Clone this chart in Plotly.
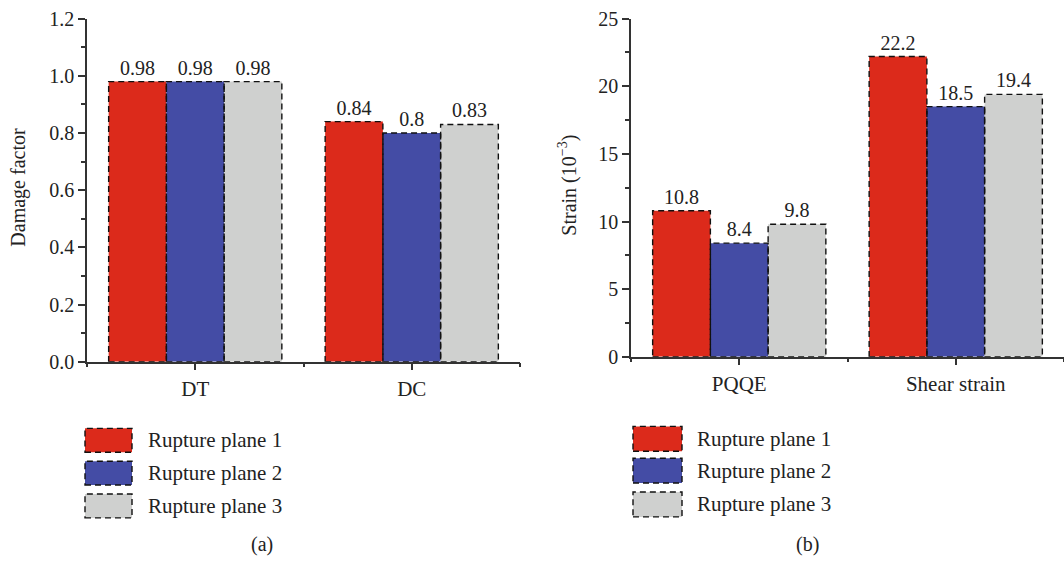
import plotly.graph_objects as go

# ---------------- data ----------------
series_names = ["Rupture plane 1", "Rupture plane 2", "Rupture plane 3"]
colors = ["#DC2A1B", "#444CA5", "#CFD0CF"]

cats_a = ["DT", "DC"]
vals_a = [[0.98, 0.84], [0.98, 0.80], [0.98, 0.83]]
labels_a = [["0.98", "0.84"], ["0.98", "0.8"], ["0.98", "0.83"]]

cats_b = ["PQQE", "Shear strain"]
vals_b = [[10.8, 22.2], [8.4, 18.5], [9.8, 19.4]]
labels_b = [["10.8", "22.2"], ["8.4", "18.5"], ["9.8", "19.4"]]

W, H = 1064, 562
FONT = "Liberation Serif"
AX = "#333333"
TXT = "#222222"


def px_x(p):
    return p / W


def py_raw(q):
    # plotly pixel (from top) -> paper fraction
    return 1 - q / H


def px_y(p):
    # target screenshot pixel -> paper fraction (vertical capture calibration)
    return py_raw((p - 9.4) / 0.966)


fig = go.Figure()
shapes = []
annotations = []

bargap = 0.2
nser = len(series_names)
bw = (1 - bargap) / nser

panels = [
    ("x", "y", cats_a, vals_a, labels_a),
    ("x2", "y2", cats_b, vals_b, labels_b),
]

for xa, ya, cats, vals, labs in panels:
    xpos = list(range(len(cats)))
    for k in range(nser):
        fig.add_trace(go.Bar(
            x=xpos, y=vals[k], name=series_names[k],
            marker=dict(color=colors[k], line=dict(width=0)),
            text=labs[k], textposition="outside",
            textfont=dict(family=FONT, size=20, color=TXT),
            cliponaxis=False, showlegend=False,
            xaxis=xa, yaxis=ya, hoverinfo="skip",
        ))
        # dashed outline of each bar, derived from data
        for i, v in enumerate(vals[k]):
            c = xpos[i] + (k - (nser - 1) / 2) * bw
            shapes.append(dict(
                type="rect", xref=xa, yref=ya,
                x0=c - bw / 2, x1=c + bw / 2, y0=0, y1=v,
                line=dict(color="#111", width=1.4, dash="6px,4px"),
                layer="above",
            ))

# manual legends
legend_specs = [
    (85, 132, [429, 462, 495], 24, 146),
    (633, 682, [427, 459, 493], 25, 695),
]
for x0, x1, tops, hgt, tx in legend_specs:
    for k in range(nser):
        shapes.append(dict(
            type="rect", xref="paper", yref="paper",
            x0=px_x(x0), x1=px_x(x1), y0=px_y(tops[k] + hgt), y1=px_y(tops[k]),
            fillcolor=colors[k],
            line=dict(color="#111", width=1.4, dash="6px,4px"),
        ))
        annotations.append(dict(
            xref="paper", yref="paper", x=px_x(tx), y=px_y(tops[k] + hgt / 2),
            text=series_names[k], showarrow=False, xanchor="left", yanchor="middle",
            font=dict(family=FONT, size=21, color=TXT),
        ))

# panel labels
for lab, xp in [("(a)", 262), ("(b)", 807)]:
    annotations.append(dict(
        xref="paper", yref="paper", x=px_x(xp), y=px_y(546), text=lab,
        showarrow=False, xanchor="center", yanchor="middle",
        font=dict(family=FONT, size=20, color=TXT),
    ))

# y-axis titles
annotations.append(dict(
    xref="paper", yref="paper", x=px_x(19), y=px_y(187), text="Damage factor",
    textangle=-90, showarrow=False, xanchor="center", yanchor="middle",
    font=dict(family=FONT, size=20, color=TXT),
))
annotations.append(dict(
    xref="paper", yref="paper", x=px_x(568), y=px_y(185),
    text="Strain (10<sup>\u22123</sup>)",
    textangle=-90, showarrow=False, xanchor="center", yanchor="middle",
    font=dict(family=FONT, size=20, color=TXT),
))

common_x = dict(
    range=[-0.5, 1.5], showline=True, linecolor=AX, linewidth=1.5,
    ticks="outside", ticklen=7, tickwidth=1.5, tickcolor=AX,
    tickvals=[0, 1], showgrid=False, zeroline=False,
    tickfont=dict(family=FONT, size=21, color=TXT),
    minor=dict(tickvals=[-0.5, 0.5, 1.5], ticks="outside", ticklen=4,
               tickwidth=1.5, tickcolor=AX, showgrid=False),
    fixedrange=True,
)
common_y = dict(
    showline=True, linecolor=AX, linewidth=1.5,
    ticks="outside", ticklen=7, tickwidth=1.5, tickcolor=AX,
    showgrid=False, zeroline=False,
    tickfont=dict(family=FONT, size=20, color=TXT),
    ticklabeloverflow="allow",
    fixedrange=True,
)

TOP = py_raw(8)  # keep the top tick label inside the page

fig.update_layout(
    width=W, height=H,
    margin=dict(l=0, r=0, t=0, b=0),
    paper_bgcolor="white", plot_bgcolor="white",
    barmode="group", bargap=bargap, bargroupgap=0,
    showlegend=False,
    xaxis=dict(common_x, domain=[px_x(87), px_x(520)], ticktext=cats_a, anchor="y"),
    yaxis=dict(common_y, domain=[px_y(362), TOP], range=[0, 1.2], dtick=0.2,
               tickformat=".1f", anchor="x",
               minor=dict(dtick=0.1, ticks="outside", ticklen=4, tickwidth=1.5,
                          tickcolor=AX, showgrid=False)),
    xaxis2=dict(common_x, domain=[px_x(631), px_x(1064)], ticktext=cats_b, anchor="y2"),
    yaxis2=dict(common_y, domain=[px_y(357), TOP], range=[0, 25], dtick=5,
                anchor="x2",
                minor=dict(dtick=2.5, ticks="outside", ticklen=4, tickwidth=1.5,
                           tickcolor=AX, showgrid=False)),
    shapes=shapes,
    annotations=annotations,
    font=dict(family=FONT, color=TXT),
)

fig.write_html("out.html")
